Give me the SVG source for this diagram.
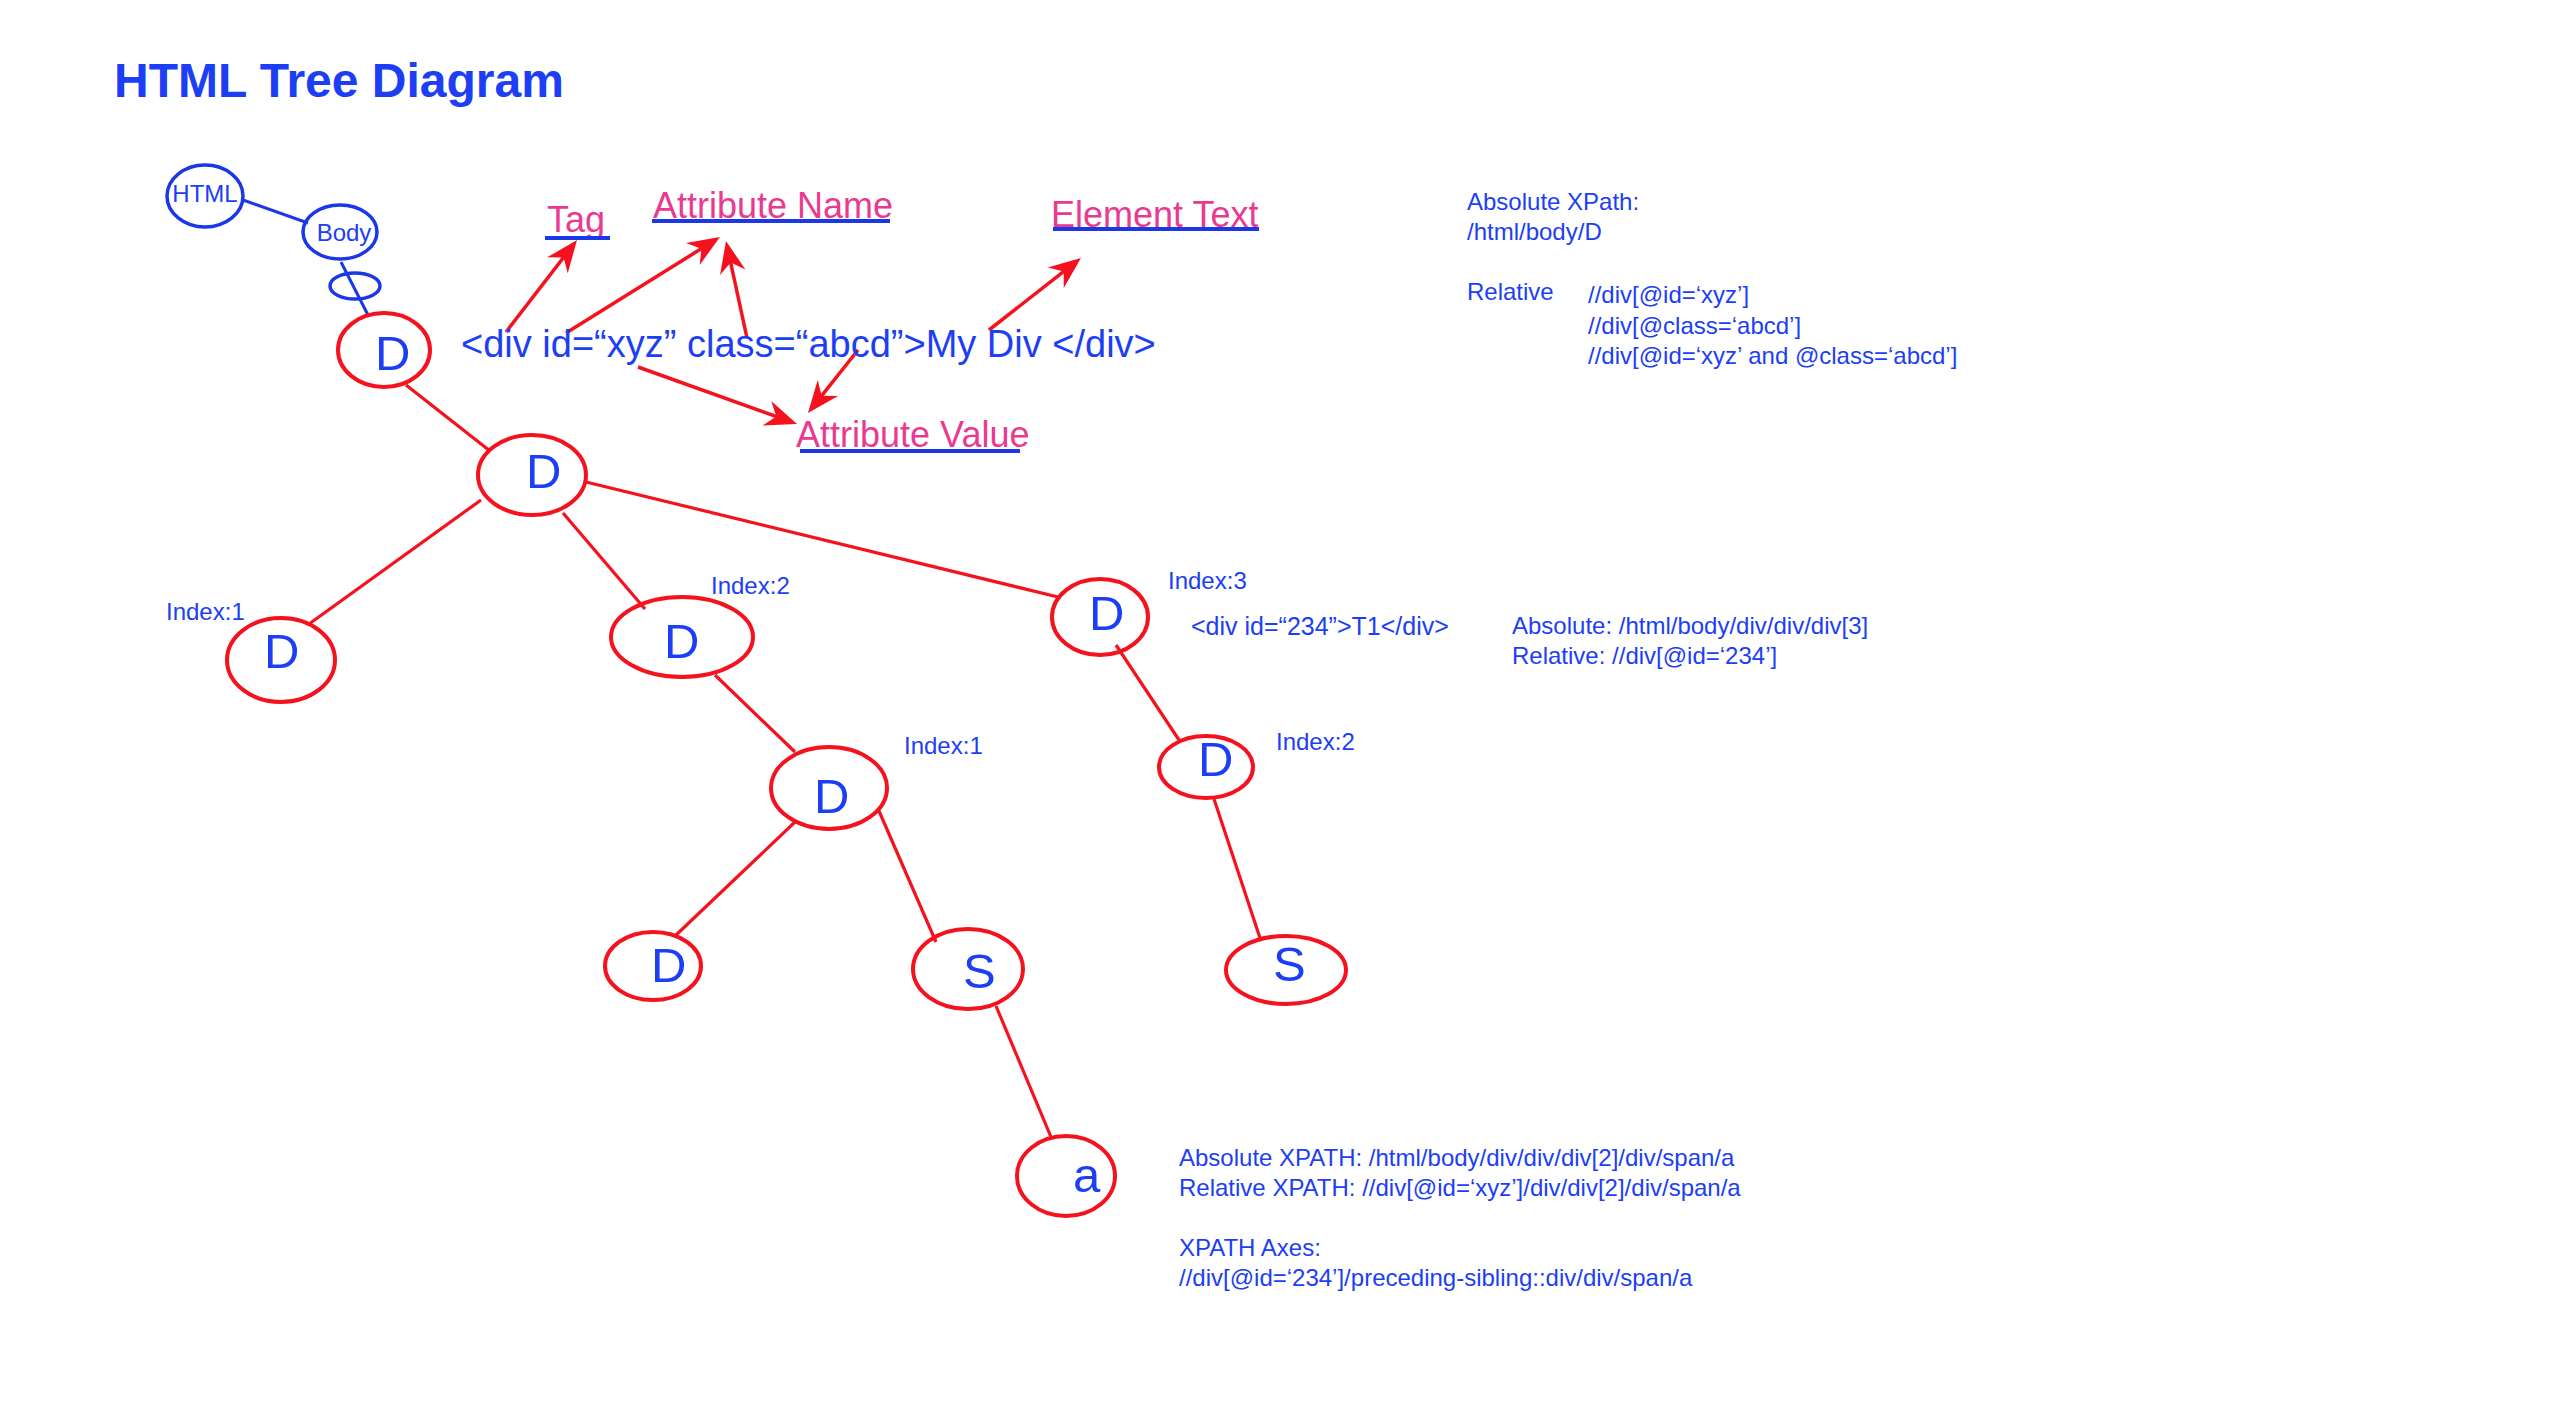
<svg xmlns="http://www.w3.org/2000/svg" width="2560" height="1406" viewBox="0 0 2560 1406">
<style>
.bg{fill:#ffffff}
.nr{fill:none;stroke:#f5121e;stroke-width:4}
.nb{fill:none;stroke:#1b38e8;stroke-width:3.5}
.er{stroke:#f5121e;stroke-width:3.2;fill:none}
.eb{stroke:#1b38e8;stroke-width:3;fill:none}
.ar{stroke:#f5121e;stroke-width:3.5;fill:none;marker-end:url(#ah)}
.ul{stroke:#1b38e8;stroke-width:4}
.t{font-family:"Liberation Sans",Arial,Helvetica,sans-serif;fill:#1c3ef5}
.s{font-size:24px}
.L{font-size:49px}
.p{fill:#ea3a90;font-size:36px}
.title{font-size:48px;font-weight:bold}
</style>
<defs>
<marker id="ah" markerUnits="userSpaceOnUse" markerWidth="36" markerHeight="32" viewBox="-34 -16 36 32" refX="-10" refY="0" orient="auto">
<path d="M0,0 L-32,-13 L-22,0 L-32,13 Z" fill="#f5121e"/>
</marker>
</defs>
<rect class="bg" x="0" y="0" width="2560" height="1406"/>
<text class="t title" x="114" y="97">HTML Tree Diagram</text>

<g id="connectors">
<line class="eb" x1="243" y1="200" x2="308" y2="223"/>
<line class="eb" x1="341" y1="262" x2="369" y2="317"/>
<line class="er" x1="406" y1="385" x2="490" y2="451"/>
<line class="er" x1="481" y1="500" x2="309" y2="624"/>
<line class="er" x1="563" y1="513" x2="645" y2="609"/>
<line class="er" x1="586" y1="482" x2="1058" y2="597"/>
<line class="er" x1="715" y1="675" x2="795" y2="752"/>
<line class="er" x1="795" y1="822" x2="675" y2="936"/>
<line class="er" x1="879" y1="811" x2="936" y2="942"/>
<line class="er" x1="996" y1="1006" x2="1051" y2="1137"/>
<line class="er" x1="1116" y1="645" x2="1179" y2="740"/>
<line class="er" x1="1214" y1="799" x2="1261" y2="941"/>
<line class="ar" x1="506" y1="332" x2="570.9" y2="247.9"/>
<line class="ar" x1="566" y1="333" x2="711.5" y2="242.3"/>
<line class="ar" x1="747" y1="338" x2="728.1" y2="250.8"/>
<line class="ar" x1="989" y1="330" x2="1073.1" y2="264.2"/>
<line class="ar" x1="638" y1="367" x2="787.6" y2="420.6"/>
<line class="ar" x1="858" y1="350" x2="814.2" y2="405.2"/>
</g>

<g id="node-html"><ellipse class="nb" cx="205" cy="196" rx="38" ry="31"/><text class="t s" x="205" y="202" text-anchor="middle">HTML</text></g>
<g id="node-body"><ellipse class="nb" cx="340" cy="232" rx="37" ry="27"/><text class="t s" x="344" y="241" text-anchor="middle">Body</text></g>
<g id="node-small"><ellipse class="nb" cx="355" cy="286" rx="25" ry="13"/></g>
<g id="node-d1"><ellipse class="nr" cx="384" cy="350" rx="46" ry="37"/><text class="t L" x="375" y="370">D</text></g>
<g id="node-d2"><ellipse class="nr" cx="532" cy="475" rx="54" ry="40"/><text class="t L" x="526" y="488">D</text></g>
<g id="node-d3"><ellipse class="nr" cx="281" cy="660" rx="54" ry="42"/><text class="t L" x="264" y="668">D</text><text class="t s" x="166" y="620">Index:1</text></g>
<g id="node-d4"><ellipse class="nr" cx="682" cy="637" rx="71" ry="40"/><text class="t L" x="664" y="658">D</text><text class="t s" x="711" y="594">Index:2</text></g>
<g id="node-d5"><ellipse class="nr" cx="829" cy="788" rx="58" ry="41"/><text class="t L" x="814" y="813">D</text><text class="t s" x="904" y="754">Index:1</text></g>
<g id="node-d6"><ellipse class="nr" cx="653" cy="966" rx="48" ry="34"/><text class="t L" x="651" y="982">D</text></g>
<g id="node-d7"><ellipse class="nr" cx="1100" cy="617" rx="48" ry="38"/><text class="t L" x="1089" y="630">D</text><text class="t s" x="1168" y="589">Index:3</text></g>
<g id="node-d8"><ellipse class="nr" cx="1206" cy="767" rx="47" ry="31"/><text class="t L" x="1198" y="776">D</text><text class="t s" x="1276" y="750">Index:2</text></g>
<g id="node-s1"><ellipse class="nr" cx="968" cy="969" rx="55" ry="40"/><text class="t L" x="963" y="988">S</text></g>
<g id="node-s2"><ellipse class="nr" cx="1286" cy="970" rx="60" ry="34"/><text class="t L" x="1273" y="981">S</text></g>
<g id="node-a"><ellipse class="nr" cx="1066" cy="1176" rx="49" ry="40"/><text class="t L" x="1073" y="1192">a</text></g>

<g id="code-annotation">
<text class="t" style="font-size:38px" x="461" y="357">&lt;div id=“xyz” class=“abcd”&gt;My Div &lt;/div&gt;</text>
<text class="t p" x="547" y="232">Tag</text>
<line class="ul" x1="545" y1="238" x2="610" y2="238"/>
<text class="t p" x="653" y="218">Attribute Name</text>
<line class="ul" x1="652" y1="221" x2="890" y2="221"/>
<text class="t p" x="1051" y="227">Element Text</text>
<line class="ul" x1="1053" y1="229" x2="1259" y2="229"/>
<text class="t p" x="796" y="447">Attribute Value</text>
<line class="ul" x1="800" y1="451" x2="1020" y2="451"/>
</g>

<g id="notes">
<text class="t s" x="1467" y="210">Absolute XPath:</text>
<text class="t s" x="1467" y="240">/html/body/D</text>
<text class="t s" x="1467" y="300">Relative</text>
<text class="t s" x="1588" y="303">//div[@id=‘xyz’]</text>
<text class="t s" x="1588" y="334">//div[@class=‘abcd’]</text>
<text class="t s" x="1588" y="364">//div[@id=‘xyz’ and @class=‘abcd’]</text>
<text class="t" style="font-size:25px" x="1191" y="635">&lt;div id=“234”&gt;T1&lt;/div&gt;</text>
<text class="t s" x="1512" y="634">Absolute: /html/body/div/div/div[3]</text>
<text class="t s" x="1512" y="664">Relative: //div[@id=‘234’]</text>
<text class="t s" x="1179" y="1166">Absolute XPATH: /html/body/div/div/div[2]/div/span/a</text>
<text class="t s" x="1179" y="1196">Relative XPATH: //div[@id=‘xyz’]/div/div[2]/div/span/a</text>
<text class="t s" x="1179" y="1256">XPATH Axes:</text>
<text class="t s" x="1179" y="1286">//div[@id=‘234’]/preceding-sibling::div/div/span/a</text>
</g>
</svg>
